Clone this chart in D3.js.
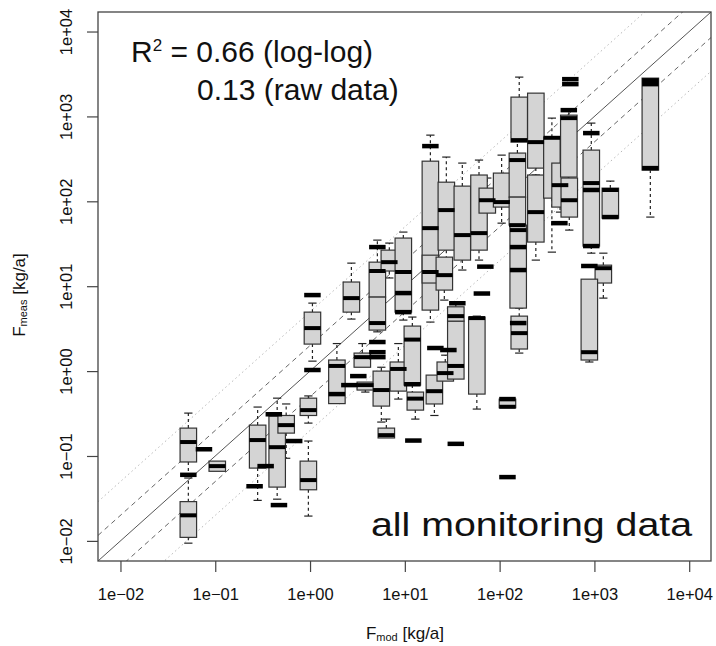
<!DOCTYPE html>
<html>
<head>
<meta charset="utf-8">
<script src="https://cdn.jsdelivr.net/npm/d3@7"></script>
<style>
  body { margin: 0; background: #fff; }
  svg { display: block; }
  text { font-family: "Liberation Sans", Arial, Helvetica, sans-serif; fill: #111; }
</style>
</head>
<body>
<svg id="chart" width="716" height="646"></svg>
<script>
// Modelled load per monitoring group (kg/a) and the five-number summary of measured loads (kg/a)
const fmod        = [0.052, 0.052, 0.105, 0.28, 0.45, 0.56, 0.96, 0.96, 1.06, 1.92, 2.73, 3.56, 3.83, 5.65, 6.38, 8.54, 12.0, 12.9, 20.5, 26.7, 34.5, 34.5, 57.5, 121, 5.13, 5.13, 6.86, 9.64, 18.6, 18.6, 27.4, 26.1, 40.4, 60.6, 74.1, 105, 154, 154, 161, 157, 161, 241, 241, 356, 434, 537, 543, 927, 1472, 1242, 884, 3890];
const whiskerLow  = [0.060, 0.0094, 0.066, 0.030, 0.031, 0.094, 0.244, 0.0196, 1.31, 0.414, 4.10, 1.11, 0.566, 0.251, 0.163, 0.468, 0.47, 0.272, 0.30, 0.762, 0.805, 3.88, 0.357, 0.37, 7.44, 2.9, 12.5, 3.99, 3.78, 10.9, 10.3, 6.86, 15.5, 20.3, 72.6, 55.3, 112, 52.4, 498, 5.52, 1.63, 204, 20.3, 25.2, 74.6, 155, 45.8, 24.5, 63.4, 7.24, 1.28, 65.2];
const q1          = [0.085, 0.011, 0.066, 0.072, 0.043, 0.186, 0.30, 0.040, 2.08, 0.414, 4.95, 1.11, 0.598, 0.387, 0.163, 0.581, 0.684, 0.347, 0.41, 0.762, 0.805, 3.88, 0.536, 0.37, 7.44, 3.04, 15.1, 4.95, 5.23, 10.9, 26.6, 9.0, 20.3, 26.6, 72.6, 85.5, 112, 52.4, 498, 5.52, 1.82, 246, 33.1, 109, 85.5, 193, 65.2, 29.7, 63.4, 10.9, 1.35, 233];
const median      = [0.146, 0.020, 0.076, 0.154, 0.127, 0.231, 0.347, 0.052, 3.21, 1.15, 7.24, 1.46, 0.684, 0.598, 0.176, 1.06, 2.35, 0.474, 0.58, 0.947, 1.15, 4.44, 4.21, 0.38, 15.1, 3.68, 19.2, 14.7, 48.3, 14.7, 78.8, 13.5, 40.0, 42.2, 103, 97.9, 306, 52.4, 526, 45.8, 2.80, 498, 74.6, 560, 155, 955, 103, 164, 136, 16.3, 1.67, 2678];
const q3          = [0.213, 0.029, 0.087, 0.231, 0.295, 0.30, 0.48, 0.087, 4.95, 1.35, 11.2, 1.63, 0.742, 1.0, 0.213, 1.28, 3.39, 0.566, 0.897, 1.28, 3.88, 5.72, 4.33, 0.468, 19.2, 7.44, 26.6, 36.9, 297, 23.2, 168, 22.0, 151, 204, 143, 215, 370, 112, 1688, 52.4, 4.44, 1880, 204, 570, 282, 1035, 188, 401, 143, 17.7, 12.1, 2825];
const whiskerHigh = [0.32, 0.055, 0.087, 0.377, 0.48, 0.41, 0.51, 0.150, 6.32, 2.11, 18.7, 2.11, 0.742, 1.11, 0.272, 2.11, 4.33, 0.566, 0.897, 1.54, 3.88, 6.3, 4.44, 0.468, 34.9, 7.44, 32.2, 43.4, 602, 23.2, 332, 22.0, 282, 306, 188, 350, 636, 112, 2904, 52.4, 5.52, 1880, 204, 955, 282, 1186, 188, 834, 173, 24.5, 12.1, 2825];

// Groups with a single measurement (drawn as a median bar only)
const singleMod  = [0.052, 0.076, 0.26, 0.34, 0.415, 0.47, 0.68, 1.06, 1.06, 1.92, 2.60, 3.23, 5.13, 5.13, 5.13, 5.13, 9.64, 9.64, 12.0, 12.3, 18.6, 21.0, 28.8, 34.5, 35.8, 70.7, 65, 121, 121, 157, 157, 157, 427, 557, 557, 537, 927, 927, 927, 884, 1472, 3890, 3890];
const singleMeas = [0.060, 0.12, 0.044, 0.076, 0.31, 0.0264, 0.150, 1.03, 7.86, 0.536, 0.684, 0.873, 2.20, 1.67, 1.46, 28.9, 8.30, 4.95, 0.70, 0.152, 447, 1.87, 1.77, 0.139, 6.3, 17.0, 8.2, 0.468, 0.0564, 15.5, 3.68, 28.9, 55.3, 2748, 2400, 1186, 136, 29.7, 636, 17.3, 65.2, 2400, 246];

// Axis ticks and reference lines (1:1, factor 2, factor 5)
const tickValues = [1e-2, 1e-1, 1e0, 1e1, 1e2, 1e3, 1e4];
const refFactors = [1, 2, 0.5, 5, 0.2];
const refStyles  = ["solid", "dashed", "dashed", "dotted", "dotted"];

const svg = d3.select("#chart");
const margin = { left: 98, top: 12, right: 5, bottom: 85 };
const W = 716 - margin.left - margin.right;
const H = 646 - margin.top - margin.bottom;
const domain = [Math.pow(10, -2.237), Math.pow(10, 4.23)];

const x = d3.scaleLog().domain(domain).range([margin.left, margin.left + W]);
const y = d3.scaleLog().domain(domain).range([margin.top + H, margin.top]);

svg.append("defs").append("clipPath").attr("id", "plotclip")
  .append("rect").attr("x", margin.left).attr("y", margin.top).attr("width", W).attr("height", H);

// Reference lines y = k * x
const refs = svg.append("g").attr("clip-path", "url(#plotclip)");
refFactors.forEach((k, i) => {
  const st = refStyles[i];
  refs.append("line")
    .attr("x1", x(domain[0])).attr("y1", y(domain[0] * k))
    .attr("x2", x(domain[1])).attr("y2", y(domain[1] * k))
    .attr("stroke", st === "solid" ? "#555" : st === "dashed" ? "#666" : "#b8b8b8")
    .attr("stroke-width", 1)
    .attr("stroke-dasharray", st === "solid" ? null : st === "dashed" ? "5,4" : "1.5,3");
});

const boxW = 16.5;
const capW = boxW / 2;
const idx = d3.range(fmod.length);
const plot = svg.append("g").attr("clip-path", "url(#plotclip)");

// Whiskers
const wg = plot.append("g").attr("stroke", "#222").attr("stroke-width", 1.2);
idx.forEach(i => {
  const cx = x(fmod[i]);
  if (whiskerHigh[i] > q3[i]) {
    wg.append("line").attr("x1", cx).attr("x2", cx)
      .attr("y1", y(q3[i])).attr("y2", y(whiskerHigh[i])).attr("stroke-dasharray", "3,3");
    wg.append("line").attr("x1", cx - capW / 2).attr("x2", cx + capW / 2)
      .attr("y1", y(whiskerHigh[i])).attr("y2", y(whiskerHigh[i]));
  }
  if (whiskerLow[i] < q1[i]) {
    wg.append("line").attr("x1", cx).attr("x2", cx)
      .attr("y1", y(q1[i])).attr("y2", y(whiskerLow[i])).attr("stroke-dasharray", "3,3");
    wg.append("line").attr("x1", cx - capW / 2).attr("x2", cx + capW / 2)
      .attr("y1", y(whiskerLow[i])).attr("y2", y(whiskerLow[i]));
  }
});

// Boxes
plot.append("g").selectAll("rect").data(idx).join("rect")
  .attr("x", i => x(fmod[i]) - boxW / 2)
  .attr("y", i => y(q3[i]))
  .attr("width", boxW)
  .attr("height", i => Math.max(0.5, y(q1[i]) - y(q3[i])))
  .attr("fill", "#d4d4d4")
  .attr("stroke", "#333")
  .attr("stroke-width", 1.2);

// Medians
plot.append("g").selectAll("line").data(idx).join("line")
  .attr("x1", i => x(fmod[i]) - boxW / 2)
  .attr("x2", i => x(fmod[i]) + boxW / 2)
  .attr("y1", i => y(median[i]))
  .attr("y2", i => y(median[i]))
  .attr("stroke", "#000").attr("stroke-width", 4);

// Single-measurement groups
plot.append("g").selectAll("line").data(d3.range(singleMod.length)).join("line")
  .attr("x1", i => x(singleMod[i]) - boxW / 2)
  .attr("x2", i => x(singleMod[i]) + boxW / 2)
  .attr("y1", i => y(singleMeas[i]))
  .attr("y2", i => y(singleMeas[i]))
  .attr("stroke", "#000").attr("stroke-width", 4.5);

// Frame
svg.append("rect")
  .attr("x", margin.left).attr("y", margin.top).attr("width", W).attr("height", H)
  .attr("fill", "none").attr("stroke", "#444").attr("stroke-width", 1.3);

const fmt = d => {
  const e = Math.round(Math.log10(d));
  return "1e" + (e < 0 ? "\u2212" : "+") + String(Math.abs(e)).padStart(2, "0");
};

// Bottom axis
const xa = svg.append("g").attr("transform", `translate(0,${margin.top + H})`)
  .call(d3.axisBottom(x).tickValues(tickValues).tickFormat(fmt).tickSize(11));
xa.select(".domain").remove();
xa.selectAll("line").attr("stroke", "#444").attr("stroke-width", 1.2);
xa.selectAll("text").attr("y", 39).attr("dy", 0)
  .style("font-size", "16.5px").style("font-family", "Liberation Sans, Arial, sans-serif").attr("fill", "#222");

// Left axis
const ya = svg.append("g").attr("transform", `translate(${margin.left},0)`)
  .call(d3.axisLeft(y).tickValues(tickValues).tickFormat(fmt).tickSize(11));
ya.select(".domain").remove();
ya.selectAll("line").attr("stroke", "#444").attr("stroke-width", 1.2);
ya.selectAll("text")
  .attr("transform", "rotate(-90)")
  .attr("x", 0).attr("y", -26).attr("dy", 0)
  .attr("text-anchor", "middle")
  .style("font-size", "16.5px").style("font-family", "Liberation Sans, Arial, sans-serif").attr("fill", "#222");

// Axis titles
const xt = svg.append("text").attr("x", 405).attr("y", 639).attr("text-anchor", "middle")
  .style("font-size", "17px");
xt.append("tspan").text("F");
xt.append("tspan").text("mod").style("font-size", "11px").attr("dy", 2);
xt.append("tspan").text(" [kg/a]").attr("dy", -2);

const yt = svg.append("text").attr("transform", "translate(25,295) rotate(-90)")
  .attr("text-anchor", "middle").style("font-size", "17px");
yt.append("tspan").text("F");
yt.append("tspan").text("meas").style("font-size", "11px").attr("dy", 2);
yt.append("tspan").text(" [kg/a]").attr("dy", -2);

// Goodness-of-fit annotation
const r2 = svg.append("text").attr("x", 131).attr("y", 62).style("font-size", "30px");
r2.append("tspan").text("R");
r2.append("tspan").text("2").style("font-size", "17px").attr("dy", -11);
r2.append("tspan").text(" = 0.66 (log-log)").attr("dy", 11);
svg.append("text").attr("x", 197).attr("y", 100).style("font-size", "30px").text("0.13 (raw data)");

svg.append("text").attr("x", 371).attr("y", 536).style("font-size", "33px")
  .attr("textLength", 321).attr("lengthAdjust", "spacingAndGlyphs")
  .text("all monitoring data");
</script>
</body>
</html>
